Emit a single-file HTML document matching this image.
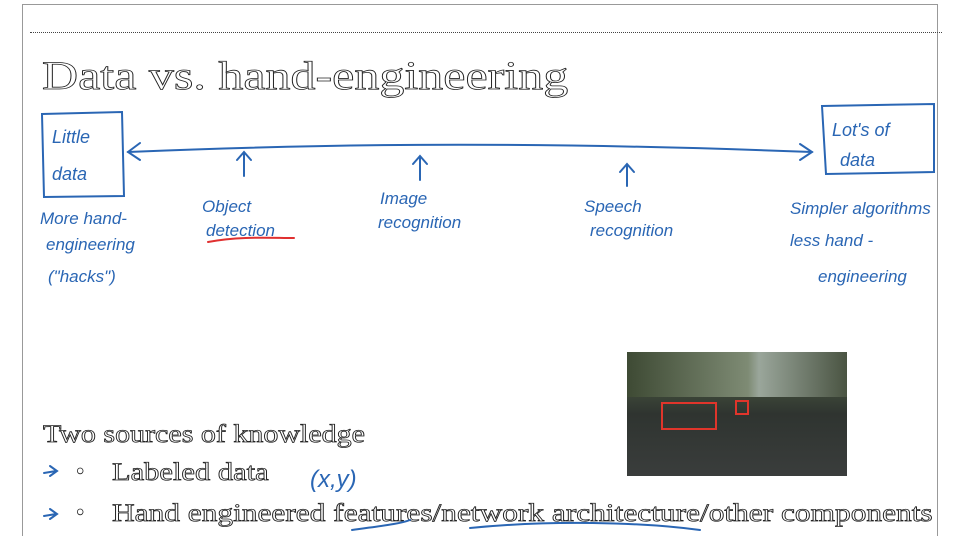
<!DOCTYPE html>
<html><head><meta charset="utf-8"><style>
html,body{margin:0;padding:0;background:#fff;width:953px;height:536px;overflow:hidden;position:relative}
.frame{position:absolute;left:22px;top:4px;width:914px;height:540px;border:1px solid #999;border-bottom:none}
.dot{position:absolute;left:30px;top:32px;width:912px;border-top:1px dotted #444}
.t{position:absolute;font-family:"Liberation Serif",serif;color:#fff;-webkit-text-stroke:0.8px #222;white-space:nowrap;transform-origin:0 0}
.h{font-family:"Liberation Sans",sans-serif;fill:#2a66b4;font-style:italic}
</style></head><body>
<div class="frame"></div>
<div class="dot"></div>
<div class="t" style="left:42px;top:52px;font-size:40px;transform:scaleX(1.25)">Data vs. hand-engineering</div>
<div class="t" style="left:43px;top:421px;font-size:25px;transform:scaleX(1.2)">Two sources of knowledge</div>
<div class="t" style="left:76px;top:459px;font-size:24px">•</div>
<div class="t" style="left:112px;top:459px;font-size:25px;transform:scaleX(1.22)">Labeled data</div>
<div class="t" style="left:76px;top:500px;font-size:24px">•</div>
<div class="t" style="left:112px;top:500px;font-size:25px;transform:scaleX(1.255)">Hand engineered features/network architecture/other components</div>
<svg width="953" height="536" style="position:absolute;left:0;top:0" fill="none" stroke="#2a66b4" stroke-width="2" stroke-linecap="round">
<path d="M42 114 L122 112 L124 196 L44 197 Z"/>
<path d="M822 106 L934 104 L934 172 L826 174 Z"/>
<path d="M128 152 C300 145 500 140 812 152"/>
<path d="M140 143 L128 152 L140 160"/>
<path d="M800 144 L812 152 L800 160"/>
<path d="M244 176 V152 M237 160 L244 152 L251 160"/>
<path d="M420 180 V156 M413 164 L420 156 L427 164"/>
<path d="M627 186 V164 M620 172 L627 164 L634 172"/>
<path d="M208 242 C240 236 270 238 294 238" stroke="#e03030"/>
<path d="M44 473 L56 471 M50 466 L57 471 L50 476"/>
<path d="M44 516 L56 514 M50 509 L57 514 L50 519"/>
<path d="M352 530 C380 526 400 524 410 520 M470 528 C550 520 640 522 700 530"/>
<g stroke="none" font-size="18">
<text x="52" y="143" class="h">Little</text>
<text x="52" y="180" class="h">data</text>
<text x="832" y="136" class="h">Lot's of</text>
<text x="840" y="166" class="h">data</text>
<text x="40" y="224" class="h" font-size="17">More hand-</text>
<text x="46" y="250" class="h" font-size="17">engineering</text>
<text x="48" y="282" class="h" font-size="17">("hacks")</text>
<text x="202" y="212" class="h" font-size="17">Object</text>
<text x="206" y="236" class="h" font-size="17">detection</text>
<text x="380" y="204" class="h" font-size="17">Image</text>
<text x="378" y="228" class="h" font-size="17">recognition</text>
<text x="584" y="212" class="h" font-size="17">Speech</text>
<text x="590" y="236" class="h" font-size="17">recognition</text>
<text x="790" y="214" class="h" font-size="17">Simpler algorithms</text>
<text x="790" y="246" class="h" font-size="17">less hand -</text>
<text x="818" y="282" class="h" font-size="17">engineering</text>
<text x="310" y="487" class="h" font-size="24">(x,y)</text>
</g>
</svg>
<div style="position:absolute;left:627px;top:352px;width:220px;height:124px;background:linear-gradient(#6d7a6a 0%,#3f4a3a 30%,#2f3430 50%,#3a3d3c 100%);overflow:hidden">
<div style="position:absolute;left:0;top:0;width:100%;height:45px;background:linear-gradient(90deg,#3e4a34,#7e8b74 55%,#9aa69b 60%,#4a5442)"></div>
<div style="position:absolute;left:34px;top:50px;width:52px;height:24px;border:2px solid #e0352b"></div>
<div style="position:absolute;left:108px;top:48px;width:10px;height:11px;border:2px solid #e0352b"></div>
</div>
</body></html>
